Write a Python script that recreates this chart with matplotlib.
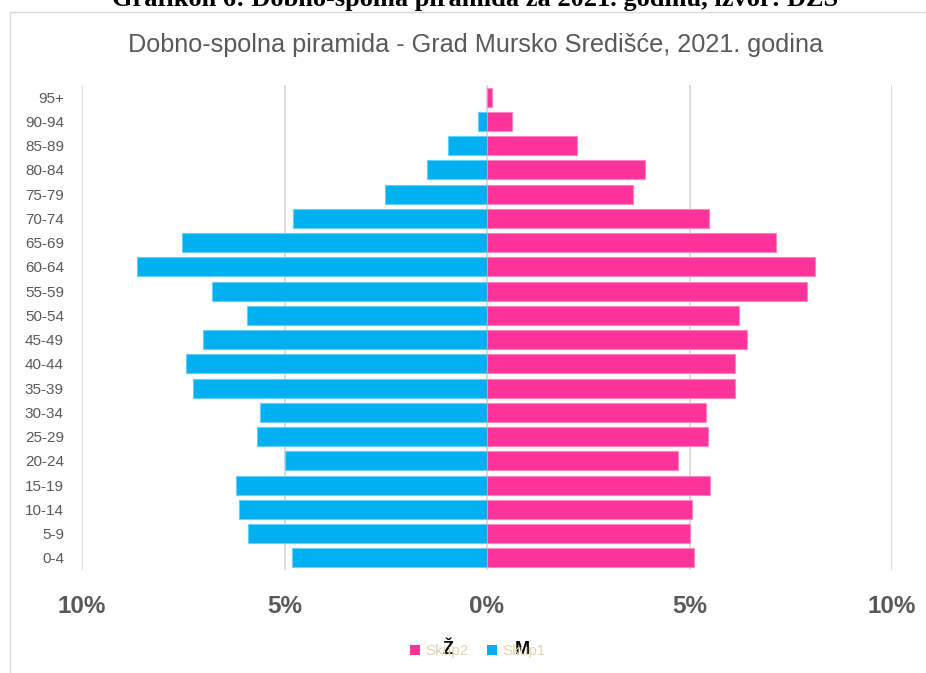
import matplotlib
matplotlib.use("Agg")
import matplotlib.pyplot as plt
from matplotlib.patches import Rectangle
from matplotlib.ticker import FuncFormatter
import numpy as np

# ---- data ----
age_groups = ["0-4", "5-9", "10-14", "15-19", "20-24", "25-29", "30-34", "35-39",
              "40-44", "45-49", "50-54", "55-59", "60-64", "65-69", "70-74",
              "75-79", "80-84", "85-89", "90-94", "95+"]
# percent of total population
male_pct = [4.82, 5.91, 6.12, 6.19, 5.00, 5.67, 5.60, 7.25, 7.44, 7.02,
            5.93, 6.78, 8.65, 7.54, 4.80, 2.53, 1.47, 0.96, 0.23, 0.0]
female_pct = [5.11, 5.02, 5.07, 5.51, 4.72, 5.46, 5.40, 6.13, 6.13, 6.43,
              6.22, 7.90, 8.11, 7.14, 5.49, 3.60, 3.90, 2.22, 0.62, 0.12]
x_ticks = [-10, -5, 0, 5, 10]

W, H = 926, 673
fig = plt.figure(figsize=(W / 100, H / 100), dpi=100)
fig.patch.set_facecolor("white")

ax = fig.add_axes([82 / W, 1 - 570 / H, 810 / W, 485 / H])

y = np.arange(len(age_groups))
blue = "#00B0F0"
pink = "#FF3399"
b1 = ax.barh(y, -np.array(male_pct), height=0.78, color=blue,
             edgecolor="#66CFF5", linewidth=0.8, zorder=3, label="Skup1")
b2 = ax.barh(y, female_pct, height=0.78, color=pink,
             edgecolor="#FF85C2", linewidth=0.8, zorder=3, label="Skup2")

ax.set_xlim(-10, 10)
ax.set_ylim(-0.5, len(age_groups) - 0.5)
ax.set_xticks(x_ticks)
ax.xaxis.set_major_formatter(FuncFormatter(lambda v, p: f"{abs(v):.0f}%"))
ax.set_yticks(y)
ax.set_yticklabels(age_groups)

ax.grid(axis="x", color="#D9D9D9", linewidth=1.3, zorder=0)
ax.grid(axis="y", visible=False)
for s in ax.spines.values():
    s.set_visible(False)
ax.tick_params(axis="both", length=0)
ax.tick_params(axis="x", pad=18, labelsize=17.5, labelcolor="#595959")
ax.tick_params(axis="y", pad=13, labelsize=11, labelcolor="#595959")
for lbl in ax.get_xticklabels():
    lbl.set_fontfamily(["Liberation Sans", "DejaVu Sans"])
    lbl.set_fontweight("bold")
for lbl in ax.get_yticklabels():
    lbl.set_fontfamily(["Liberation Sans", "DejaVu Sans"])

# chart border
fig.patches.append(Rectangle((10 / W, -0.05), 1.0, 1 - 12 / H + 0.05,
                             transform=fig.transFigure, fill=False,
                             edgecolor="#D9D9D9", linewidth=1.0))

# caption (cut off at top)
fig.text(475 / W, 1 - 6 / H, "Grafikon 6: Dobno-spolna piramida za 2021. godinu, izvor: DZS",
         ha="center", va="baseline", fontsize=19, fontweight="bold",
         family=["Liberation Serif", "DejaVu Serif"], color="black")

# title
fig.text(475.5 / W, 1 - 45 / H, "Dobno-spolna piramida - Grad Mursko Središće, 2021. godina",
         ha="center", va="center", fontsize=18.2, color="#595959",
         family=["Liberation Sans", "DejaVu Sans"])

# legend
leg = fig.legend(handles=[b2, b1], labels=["Skup2", "Skup1"], loc="center",
                 bbox_to_anchor=(478 / W, 1 - 651 / H), ncol=2, frameon=False,
                 handlelength=0.65, handleheight=0.65, handletextpad=0.35,
                 columnspacing=1.2, prop={"family": ["Liberation Sans", "DejaVu Sans"], "size": 11},
                 labelcolor="#E6D3AE")
for h in leg.legend_handles:
    h.set_edgecolor("none")

fig.text(448 / W, 1 - 649 / H, "Ž", ha="center", va="center", fontsize=13,
         fontweight="bold", color="black", family=["Liberation Sans", "DejaVu Sans"])
fig.text(522 / W, 1 - 649 / H, "M", ha="center", va="center", fontsize=13,
         fontweight="bold", color="black", family=["Liberation Sans", "DejaVu Sans"])

fig.savefig("out.png", dpi=100, facecolor="white")
